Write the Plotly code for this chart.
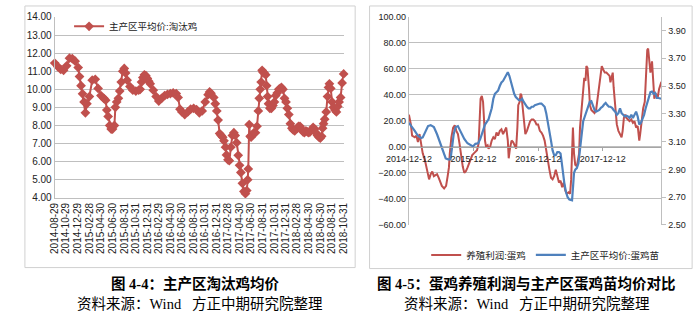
import plotly.graph_objects as go
import pandas as pd

# ---------------- data: left chart (主产区平均价:淘汰鸡, 元/公斤) ----------------
cull_dates = [
    "2014-08-29", "2014-09-15", "2014-09-30", "2014-10-15", "2014-10-31", "2014-11-15", "2014-11-30", "2014-12-15", "2014-12-31",
    "2015-01-07", "2015-01-15", "2015-01-23", "2015-01-31", "2015-02-07", "2015-02-15", "2015-02-28", "2015-03-15", "2015-03-31",
    "2015-04-15", "2015-04-30", "2015-05-15", "2015-05-25", "2015-05-31", "2015-06-07", "2015-06-15", "2015-06-23", "2015-06-30",
    "2015-07-10", "2015-07-15", "2015-07-22", "2015-07-31", "2015-08-07", "2015-08-15", "2015-08-23", "2015-08-31", "2015-09-07",
    "2015-09-15", "2015-09-30", "2015-10-15", "2015-10-31", "2015-11-15", "2015-11-23", "2015-11-30", "2015-12-07", "2015-12-15",
    "2015-12-23", "2015-12-31",
    "2016-01-07", "2016-01-15", "2016-01-31", "2016-02-15", "2016-02-29", "2016-03-15", "2016-03-31", "2016-04-15", "2016-04-30",
    "2016-05-15", "2016-05-31", "2016-06-10", "2016-06-20", "2016-06-30", "2016-07-15", "2016-07-31", "2016-08-15", "2016-08-31",
    "2016-09-15", "2016-09-30", "2016-10-15", "2016-10-31", "2016-11-15", "2016-11-23", "2016-11-30", "2016-12-15", "2016-12-23",
    "2016-12-31",
    "2017-01-07", "2017-01-15", "2017-01-23", "2017-01-31", "2017-02-07", "2017-02-15", "2017-02-20", "2017-02-28", "2017-03-07",
    "2017-03-15", "2017-03-23", "2017-03-31", "2017-04-07", "2017-04-15", "2017-04-23", "2017-04-30", "2017-05-07", "2017-05-15",
    "2017-05-23", "2017-05-31", "2017-06-07", "2017-06-12", "2017-06-15", "2017-06-20", "2017-06-25", "2017-06-30", "2017-07-07",
    "2017-07-15", "2017-07-23", "2017-07-31", "2017-08-07", "2017-08-12", "2017-08-17", "2017-08-22", "2017-08-27", "2017-08-31",
    "2017-09-07", "2017-09-15", "2017-09-20", "2017-09-25", "2017-09-30", "2017-10-07", "2017-10-15", "2017-10-23", "2017-10-31",
    "2017-11-07", "2017-11-15", "2017-11-23", "2017-11-30", "2017-12-07", "2017-12-15", "2017-12-23", "2017-12-31",
    "2018-01-07", "2018-01-15", "2018-01-23", "2018-01-31", "2018-02-07", "2018-02-15", "2018-02-28", "2018-03-07", "2018-03-15",
    "2018-03-23", "2018-03-31", "2018-04-07", "2018-04-15", "2018-04-23", "2018-04-30", "2018-05-07", "2018-05-15", "2018-05-23",
    "2018-05-31", "2018-06-07", "2018-06-15", "2018-06-23", "2018-06-30", "2018-07-07", "2018-07-12", "2018-07-17", "2018-07-23",
    "2018-07-31", "2018-08-07", "2018-08-12", "2018-08-17", "2018-08-24", "2018-08-31", "2018-09-07", "2018-09-15", "2018-09-23",
    "2018-09-30", "2018-10-07", "2018-10-15", "2018-10-23", "2018-10-31",
]
cull_price = [
    11.45, 11.25, 11.10, 11.05, 11.30, 11.72, 11.70, 11.55, 11.20,
    10.70, 10.20, 9.75, 9.30, 8.70, 9.20, 9.60, 10.50, 10.55,
    10.05, 9.65, 9.50, 9.40, 8.85, 8.50, 8.00, 7.80, 7.80,
    8.00, 9.00, 9.30, 9.50, 9.90, 10.40, 11.00, 11.15, 10.90,
    10.50, 10.15, 9.95, 9.90, 9.95, 10.00, 10.40, 10.65, 10.80,
    10.75, 10.60,
    10.45, 10.30, 9.95, 9.60, 9.35, 9.50, 9.65, 9.72, 9.76,
    9.80, 9.76, 9.55, 8.90, 8.75, 8.60, 8.75, 8.90, 8.95,
    8.88, 8.70, 8.80, 9.30, 9.70, 9.85, 9.78, 9.55, 9.20,
    8.80,
    8.30, 7.55, 7.45, 7.35, 7.15, 6.80, 6.37, 6.10, 6.05,
    6.80, 7.45, 7.60, 7.45, 7.05, 6.35, 5.80, 5.40, 4.80,
    4.35, 4.23, 4.40, 5.00, 5.60, 8.05, 7.40, 7.35, 7.50,
    7.60, 7.60, 7.95, 8.80, 9.50, 10.00, 10.40, 11.05, 10.95,
    10.90, 10.80, 10.20, 9.60, 9.20, 8.95, 8.95, 9.10, 9.30,
    9.65, 9.80, 10.00, 10.05, 10.10, 10.00, 9.50, 9.30,
    8.95, 8.60, 8.10, 7.85, 7.75, 7.70, 7.85, 7.95, 7.95,
    7.80, 7.65, 7.60, 7.70, 7.65, 7.60, 7.65, 7.75, 7.90,
    7.80, 7.60, 7.45, 7.35, 7.30, 7.40, 7.85, 8.10, 8.35,
    8.75, 9.60, 10.10, 10.30, 10.05, 9.30, 9.00, 8.85, 8.75,
    9.05, 9.30, 9.55, 10.35, 10.85,
]
cull_ticks = [
    "2014-08-29", "2014-10-29", "2014-12-29", "2015-02-28", "2015-04-30", "2015-06-30", "2015-08-31",
    "2015-10-31", "2015-12-31", "2016-02-29", "2016-04-30", "2016-06-30", "2016-08-31", "2016-10-31",
    "2016-12-31", "2017-02-28", "2017-04-30", "2017-06-30", "2017-08-31", "2017-10-31", "2017-12-31",
    "2018-02-28", "2018-04-30", "2018-06-30", "2018-08-31", "2018-10-31",
]
cull_range = [4, 14]

# ---------------- data: right chart ----------------
series_start = "2014-12-12"
# days since 2014-12-12 / 养殖利润:蛋鸡 (元/羽)
profit_day = [
    0, 11, 18, 33, 42, 51, 60, 69, 78, 90, 101, 114, 123, 132, 141, 159, 168, 177, 186, 199,
    210, 219, 226, 231, 240, 250, 259, 268, 277, 286, 295, 304, 313, 322, 331, 340, 349, 358, 367, 376,
    385, 394, 400, 405, 412, 419, 425, 430, 436, 445, 450, 459, 468, 477, 486, 495, 504, 514, 523, 532,
    541, 550, 559, 564, 571, 580, 589, 598, 606, 613, 618, 626, 631, 636, 644, 649, 658, 667, 676, 685,
    694, 703, 712, 721, 730, 740, 749, 758, 767, 776, 785, 794, 803, 812, 821, 830, 839, 848, 857, 866,
    875, 884, 893, 902, 911, 917, 922, 927, 933, 940, 949, 955, 962, 967, 976, 985, 991, 998, 1003, 1009,
    1013, 1018, 1023, 1031, 1040, 1049, 1058, 1067, 1076, 1085, 1090, 1098, 1107, 1116, 1125, 1134, 1139, 1145, 1152, 1157,
    1166, 1175, 1184, 1193, 1202, 1208, 1215, 1222, 1229, 1238, 1247, 1257, 1266, 1275, 1284, 1293, 1302, 1307, 1315, 1324,
    1333, 1342, 1347, 1352, 1360, 1365, 1374, 1380, 1387, 1396, 1405, 1414, 1425, 1427,
]
profit = [
    24.7, 17.2, 8.6, 7.3, 8.6, 3.6, 9.8, 2.4, -5.0, -10.0, -16.0, -25.0, -21.0, -19.0, -22.5, -21.0, -23.7, -27.4, -30.0, -32.0,
    -30.0, -22.5, -16.0, -5.0, 7.3, 14.8, 16.5, 12.3, 9.8, 2.4, -7.6, -15.0, -20.0, -18.7, -16.0, -12.5, -8.8, -6.3, -5.0, -4.0,
    -2.6, 2.4, 19.7, 37.0, 39.0, 34.6, 19.7, 4.8, 0.0, 1.1, -1.4, 0.0, 4.8, 7.3, 6.0, 11.0, 8.6, 12.3, 13.5, 9.8,
    12.3, 14.8, 4.8, -8.8, -1.4, 4.8, 3.6, 1.1, -1.4, 14.8, 32.0, 34.6, 40.8, 39.6, 27.0, 19.7, 9.8, 12.3, 16.0, 19.7,
    21.0, 21.0, 19.7, 17.2, 17.2, 12.3, 11.0, 8.6, 4.8, -1.4, -10.0, -17.5, -23.7, -25.0, -22.5, -17.5, -22.5, -27.4, -26.0, -31.0,
    -27.4, -33.6, -36.0, -35.0, -36.0, -25.0, -5.0, 14.8, -5.0, -13.8, -15.0, -11.3, -5.0, 14.8, 32.0, 49.5, 53.0, 50.7, 62.0, 60.7,
    54.5, 44.5, 32.0, 28.4, 27.2, 26.0, 28.4, 38.3, 48.0, 59.4, 62.0, 59.4, 57.0, 57.0, 55.7, 54.5, 49.5, 53.0, 57.0, 45.8,
    27.2, 17.2, 12.3, 9.8, 7.3, 12.3, 22.2, 24.7, 22.2, 21.0, 19.7, 21.0, 18.5, 19.7, 14.8, 16.0, 4.8, 9.8, 22.2, 29.7,
    34.6, 54.5, 74.3, 75.5, 64.4, 57.0, 65.6, 47.0, 37.0, 41.0, 37.0, 44.5, 48.0, 50.0,
]
# days since 2014-12-12 / 主产区平均价:蛋鸡苗 (元/羽)
chick_day = [
    0, 14, 33, 51, 69, 78, 87, 96, 108, 123, 141, 159, 177, 195, 208, 222, 235, 244, 253, 264,
    277, 286, 298, 313, 331, 349, 362, 376, 391, 403, 416, 430, 450, 459, 468, 477, 486, 495, 504, 514,
    523, 532, 541, 550, 559, 568, 577, 586, 595, 604, 613, 622, 631, 640, 649, 658, 667, 676, 685, 694,
    703, 712, 721, 730, 740, 749, 758, 767, 776, 785, 794, 803, 812, 821, 830, 839, 848, 857, 862, 869,
    878, 888, 897, 907, 922, 928, 933, 940, 949, 958, 967, 976, 985, 994, 1003, 1013, 1022, 1031, 1040, 1049,
    1058, 1067, 1076, 1085, 1094, 1103, 1112, 1121, 1130, 1139, 1148, 1157, 1166, 1175, 1184, 1193, 1202, 1211, 1220, 1229,
    1238, 1247, 1257, 1266, 1275, 1284, 1293, 1302, 1311, 1320, 1329, 1338, 1347, 1356, 1365, 1374, 1383, 1392, 1401, 1410,
    1427,
]
chick_price = [
    3.235, 3.212, 3.177, 3.142, 3.126, 3.130, 3.153, 3.188, 3.212, 3.219, 3.205, 3.153, 3.084, 3.014, 2.979, 2.972, 2.972, 3.060, 3.153, 3.205,
    3.212, 3.188, 3.153, 3.119, 3.088, 3.072, 3.065, 3.084, 3.088, 3.119, 3.165, 3.223, 3.260, 3.300, 3.340, 3.409, 3.444, 3.456, 3.467, 3.502,
    3.526, 3.537, 3.560, 3.584, 3.600, 3.572, 3.526, 3.479, 3.444, 3.421, 3.409, 3.398, 3.398, 3.409, 3.386, 3.363, 3.351, 3.340, 3.340, 3.351,
    3.351, 3.363, 3.367, 3.374, 3.374, 3.374, 3.363, 3.351, 3.305, 3.247, 3.177, 3.107, 3.037, 3.002, 3.002, 3.025, 3.025, 3.014, 2.967, 2.886,
    2.805, 2.735, 2.700, 2.683, 2.677, 2.781, 2.874, 2.898, 2.909, 2.944, 3.060, 3.177, 3.247, 3.281, 3.316, 3.351, 3.386, 3.391, 3.363, 3.328,
    3.316, 3.321, 3.328, 3.344, 3.351, 3.367, 3.379, 3.363, 3.351, 3.351, 3.344, 3.328, 3.316, 3.293, 3.305, 3.340, 3.305, 3.293, 3.281, 3.286,
    3.281, 3.270, 3.293, 3.270, 3.293, 3.316, 3.281, 3.223, 3.235, 3.258, 3.293, 3.340, 3.386, 3.421, 3.456, 3.460, 3.444, 3.451, 3.414, 3.414,
    3.409,
]
right_ticks = ["2014-12-12", "2015-12-12", "2016-12-12", "2017-12-12"]
right_end_day = 1427
profit_range = [-60, 100]
chick_range = [2.5, 4.0]
chick_tickvals = [2.5, 2.7, 2.9, 3.1, 3.3, 3.5, 3.7, 3.9]

assert len(cull_dates) == len(cull_price)
assert len(profit_day) == len(profit)
assert len(chick_day) == len(chick_price)

# ---------------- styling / layout helpers ----------------
W, H = 700, 322
RED = "#c0504d"
BLUE = "#4f81bd"
GRID = "#bfbfbf"
FRAME = "#d0d0d0"
FONT = "Liberation Sans, Noto Sans CJK SC, sans-serif"
CAPFONT = "Liberation Serif, Noto Sans CJK SC, serif"


def fx(p):
    return p / W


def fy(p):
    return 1 - p / H


start = pd.Timestamp(series_start)
profit_x = [start + pd.Timedelta(days=d) for d in profit_day]
chick_x = [start + pd.Timedelta(days=d) for d in chick_day]
right_end = start + pd.Timedelta(days=right_end_day)

fig = go.Figure()
fig.add_trace(go.Scatter(
    x=cull_dates, y=cull_price, name="主产区平均价:淘汰鸡", mode="lines+markers",
    line=dict(color=RED, width=2), marker=dict(symbol="diamond", size=7.5, color=RED),
    xaxis="x", yaxis="y", legend="legend", cliponaxis=False,
))
fig.add_trace(go.Scatter(
    x=profit_x, y=profit, name="养殖利润:蛋鸡", mode="lines",
    line=dict(color=RED, width=2), xaxis="x2", yaxis="y2", legend="legend2",
))
fig.add_trace(go.Scatter(
    x=chick_x, y=chick_price, name="主产区平均价:蛋鸡苗", mode="lines",
    line=dict(color=BLUE, width=2.2), xaxis="x2", yaxis="y3", legend="legend2",
))

tick_font_l = dict(family=FONT, size=10, color="#222")
tick_font_r = dict(family=FONT, size=9, color="#222")

fig.update_layout(
    width=W, height=H, margin=dict(l=0, r=0, t=0, b=0),
    paper_bgcolor="white", plot_bgcolor="white",
    font=dict(family=FONT, size=10, color="#222"),
    showlegend=True,
    xaxis=dict(
        domain=[fx(33), fx(334)], type="date", range=[cull_dates[0], cull_dates[-1]],
        tickvals=cull_ticks, ticktext=cull_ticks, tickangle=-90, tickfont=tick_font_l,
        showgrid=False, showline=True, linecolor=GRID, ticks="", anchor="y", zeroline=False,
    ),
    yaxis=dict(
        domain=[fy(199), fy(12.3)], range=cull_range, dtick=1, tickformat=".2f", tickfont=tick_font_l,
        showgrid=True, gridcolor=GRID, showline=True, linecolor=GRID, zeroline=False, anchor="x", ticks="",
    ),
    xaxis2=dict(
        domain=[fx(402), fx(665)], type="date", range=[start, right_end],
        tickvals=right_ticks, ticktext=right_ticks, tickfont=tick_font_r,
        anchor="free", position=fy(146.5), showline=True, linecolor="#a6a6a6",
        ticks="outside", ticklen=3, tickcolor="#a6a6a6", showgrid=False, zeroline=False,
    ),
    yaxis2=dict(
        domain=[fy(227), fy(12)], range=profit_range, dtick=20, tickformat=".2f", tickfont=tick_font_r,
        showgrid=True, gridcolor=GRID, showline=True, linecolor=GRID, zeroline=False, anchor="x2", ticks="",
    ),
    yaxis3=dict(
        overlaying="y2", side="right", anchor="x2", range=chick_range, tickvals=chick_tickvals,
        tickformat=".2f", tickfont=tick_font_r, showgrid=False, showline=True, linecolor=GRID,
        ticks="outside", ticklen=4, tickcolor=GRID, zeroline=False,
    ),
    legend=dict(
        x=fx(48), y=fy(7), xanchor="left", yanchor="top", bgcolor="rgba(0,0,0,0)",
        font=dict(family=FONT, size=9.5, color="#222"), itemwidth=30,
    ),
    legend2=dict(
        orientation="h", x=fx(420), y=fy(243), xanchor="left", yanchor="top", bgcolor="rgba(0,0,0,0)",
        font=dict(family=FONT, size=9.5, color="#222"), itemwidth=30,
    ),
)

# chart frames
fig.add_shape(type="rect", xref="paper", yref="paper", x0=fx(2), x1=fx(346), y0=fy(271), y1=fy(1),
              line=dict(color=FRAME, width=1), fillcolor="rgba(0,0,0,0)", layer="below")
fig.add_shape(type="rect", xref="paper", yref="paper", x0=fx(361), x1=fx(697), y0=fy(272), y1=fy(1),
              line=dict(color=FRAME, width=1), fillcolor="rgba(0,0,0,0)", layer="below")

captions = [
    ("<b>图 4-4：主产区淘汰鸡均价</b>", 179, 287),
    ("资料来源：Wind   方正中期研究院整理", 184, 309),
    ("<b>图 4-5：蛋鸡养殖利润与主产区蛋鸡苗均价对比</b>", 524, 287),
    ("资料来源：Wind   方正中期研究院整理", 525, 309),
]
for text, cx, cy in captions:
    fig.add_annotation(text=text, x=fx(cx), y=fy(cy), xref="paper", yref="paper",
                       showarrow=False, xanchor="center", yanchor="middle",
                       font=dict(family=CAPFONT, size=14.5, color="#000"))

fig.write_html("out.html")
